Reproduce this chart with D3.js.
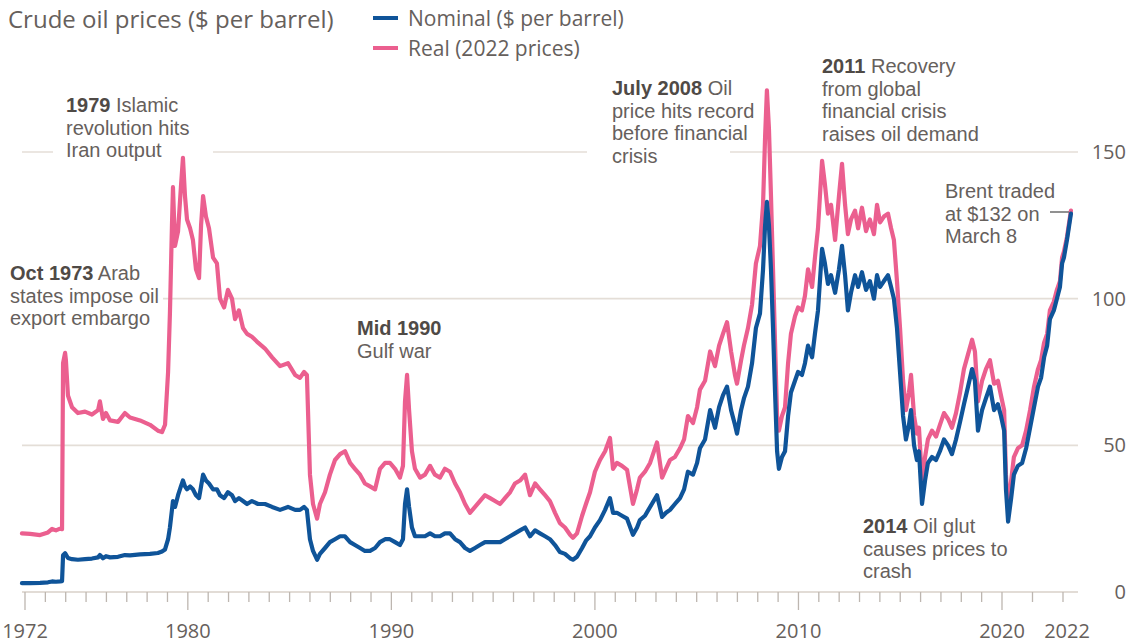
<!DOCTYPE html>
<html><head><meta charset="utf-8">
<script src="https://cdn.jsdelivr.net/npm/d3@7"></script>
<style>
html,body{margin:0;padding:0;background:#fff;}
svg{display:block;font-family:"Open Sans",sans-serif;}
</style></head>
<body><svg id="c" width="1134" height="644"></svg>
<script>
// ---- data (decimal years, $ per barrel) ----
const years = [1971.85,1972.25,1972.74,1973.13,1973.33,1973.52,1973.72,1973.82,1973.87,1973.97,1974.01,1974.11,1974.31,1974.60,1974.95,1975.29,1975.59,1975.68,1975.83,1975.98,1976.18,1976.57,1976.91,1977.16,1977.65,1978.14,1978.53,1978.73,1978.88,1979.03,1979.12,1979.22,1979.27,1979.37,1979.52,1979.66,1979.76,1979.86,1979.96,1980.11,1980.25,1980.40,1980.55,1980.65,1980.75,1980.89,1981.04,1981.24,1981.43,1981.58,1981.78,1981.97,1982.17,1982.32,1982.51,1982.71,1982.91,1983.15,1983.45,1983.79,1984.14,1984.53,1984.92,1985.27,1985.51,1985.71,1985.85,1986.00,1986.15,1986.35,1986.49,1986.74,1986.98,1987.23,1987.48,1987.72,1987.97,1988.21,1988.46,1988.70,1988.95,1989.20,1989.44,1989.69,1989.93,1990.18,1990.42,1990.57,1990.67,1990.77,1990.87,1991.01,1991.16,1991.41,1991.65,1991.90,1992.14,1992.39,1992.63,1992.88,1993.13,1993.37,1993.62,1993.86,1994.11,1994.35,1994.60,1994.85,1995.09,1995.34,1995.58,1995.83,1996.07,1996.32,1996.57,1996.81,1997.06,1997.30,1997.55,1997.79,1998.04,1998.28,1998.53,1998.78,1998.92,1999.12,1999.37,1999.56,1999.76,2000.00,2000.25,2000.50,2000.74,2000.89,2001.08,2001.33,2001.58,2001.87,2002.07,2002.21,2002.46,2002.71,2003.05,2003.30,2003.49,2003.69,2003.93,2004.18,2004.38,2004.57,2004.82,2005.02,2005.16,2005.41,2005.66,2005.90,2006.10,2006.29,2006.49,2006.69,2006.88,2006.98,2007.18,2007.32,2007.52,2007.72,2007.91,2008.11,2008.26,2008.36,2008.45,2008.55,2008.65,2008.75,2008.85,2008.95,2009.04,2009.19,2009.34,2009.49,2009.63,2009.83,2009.98,2010.17,2010.32,2010.47,2010.67,2010.81,2010.96,2011.16,2011.30,2011.45,2011.60,2011.80,2011.99,2012.14,2012.29,2012.43,2012.58,2012.78,2012.93,2013.12,2013.32,2013.51,2013.71,2013.86,2014.01,2014.20,2014.40,2014.55,2014.69,2014.84,2014.99,2015.14,2015.28,2015.43,2015.53,2015.68,2015.82,2015.92,2016.07,2016.22,2016.36,2016.56,2016.76,2016.95,2017.15,2017.35,2017.54,2017.74,2017.94,2018.13,2018.33,2018.53,2018.67,2018.82,2019.02,2019.21,2019.41,2019.61,2019.80,2019.95,2020.07,2020.13,2020.20,2020.30,2020.39,2020.52,2020.66,2020.79,2020.92,2021.05,2021.18,2021.28,2021.38,2021.48,2021.57,2021.70,2021.80,2021.90,2021.97,2022.03,2022.13,2022.26];

const nominal = [3.0,3.0,3.1,3.3,3.6,3.5,3.6,3.7,12.5,13.2,12.8,11.6,11.2,11.0,11.2,11.4,11.8,12.6,11.5,12.2,11.8,12.0,12.6,12.5,12.8,13.0,13.3,13.8,14.5,18,22,28,31,29,33,36,38,36,35,36,35,33,32,36,40,38,37,35,35,33,32,34,33,31,32,31,30,31,30,30,29,28,29,28,28,29,28,18,14,11,13,15,17,18,19,19,17,16,15,14,14,15,17,18,18,17,16,18,30,35,29,22,19,19,19,20,19,19,20,20,18,17,15,14,15,16,17,17,17,17,18,19,20,21,22,19,21,20,19,18,16,13.6,13,11.5,11,12,15,17.5,19,22,24.5,28,32,27,27,26,25,19.5,22,24.5,26,29,33,25.6,27,28,30,32,35,41,40,44,49,52,62,56,63,67,70,62,57,54,62,66,70,78,90,95,110,125,133,125,110,90,68,48,42,46,48,60,68,72,75,74,78,84,80,88,96,117,112,105,108,102,110,118,108,96,102,108,104,109,103,106,100,108,104,106,108,104,100,90,75,60,52,57,62,50,45,48,30,38,44,46,45,48,52,50,47,52,58,64,70,76,72,55,62,66,70,62,64,60,55,35,24,32,40,43,44,49,56,63,70,73,80,84,93,96,100,104,112,114,120,129];

const real = [20.0,19.8,19.4,20.3,21.5,21.0,21.6,21.4,78,81.5,79,67,63,61,61.5,60.5,62,65,59,61,58.5,58,61,59.5,58.5,57,55,54.5,57,75,95,125,138,118,123,138,148,135,127,124,120,110,107,125,135,128,124,114,112,100,97,103,100,93,96,90,88,87,85,83,80,77,78,74,73,75,74,40,30,25,30,34,40,45,47,48,44,42,40,37,36,35,42,44,44,42,39,43,65,74,62,48,42,39,40,43,40,39,42,41,37,34,30,27,29,31,33,32,31,30,32,34,37,38,40,33,37,35,33,31,27,23.5,22,19.5,18.5,20,26,30,34,41,45,48,52.5,42,44,43,41.6,30,35,39,41,44,51,39,42,45,46,49,52,60,57.6,63,69,72,82,77,84,88,92,82,74,71,79,84,90,98,112,118,132,155,171,158,135,110,85,60,55,60,63,78,88,94,97,96,101,110,104,114,124,147,139,129,132,120,135,146,132,122,127,130,124,131,123,127,122,132,126,128,129,124,120,106,90,72,62,68,74,60,54,56,38,46,52,55,53,57,61,59,56,61,68,76,81,86,82,65,72,76,79,71,72,67,62,40,28,38,46,49,50,55,62,70,76,79,85,88,96,99,103,106,114,116,121,130];

const yTicks = [0, 50, 100, 150];
const xMinorTicks = d3.range(1972, 2023);
const xLabelYears = [1972, 1980, 1990, 2000, 2010, 2020, 2022];
const seriesNames = ["Nominal ($ per barrel)", "Real (2022 prices)"];
const colors = {nominal: "#0f5499", real: "#eb5f8f"};

const svg = d3.select("#c");
const x = d3.scaleLinear().domain([1972, 2020, 2022]).range([25, 1002, 1063]);
const y = d3.scaleLinear().domain([0, 150]).range([592, 152]);

const gridColor = "#e4ded7";
const textColor = "#66605c";
const boldColor = "#4f4a46";

// gridlines
svg.append("g").selectAll("line").data(yTicks.filter(d => d > 0)).join("line")
  .attr("x1", 22).attr("x2", 1078)
  .attr("y1", d => y(d)).attr("y2", d => y(d))
  .attr("stroke", gridColor).attr("stroke-width", 1.6);

// y labels
svg.append("g").selectAll("text").data(yTicks).join("text")
  .attr("x", 1126).attr("y", d => y(d) + 7)
  .attr("text-anchor", "end").attr("font-size", 20).attr("fill", textColor)
  .text(d => d);

// x axis
svg.append("line").attr("x1", 22).attr("x2", 1078).attr("y1", y(0)).attr("y2", y(0))
  .attr("stroke", "#d8d0c8").attr("stroke-width", 1.6);
svg.append("g").selectAll("line").data(xMinorTicks).join("line")
  .attr("x1", d => x(d)).attr("x2", d => x(d))
  .attr("y1", y(0)).attr("y2", d => (d % 10 === 0 || d === 1972) ? y(0) + 18 : y(0) + 10)
  .attr("stroke", "#bdb6b0").attr("stroke-width", 1.3);
svg.append("g").selectAll("text").data(xLabelYears).join("text")
  .attr("x", d => x(d) + (d === 2022 ? 4 : 0)).attr("y", 638)
  .attr("text-anchor", "middle").attr("font-size", 20).attr("fill", textColor)
  .text(d => d);

// annotation background masks (break gridlines behind text)
const masks = [[53, 90, 160, 75], [587, 140, 143, 25], [0, 290, 163, 18]];
svg.append("g").selectAll("rect").data(masks).join("rect")
  .attr("x", d => d[0]).attr("y", d => d[1]).attr("width", d => d[2]).attr("height", d => d[3])
  .attr("fill", "#fff");

// lines
const pts = years.map((t, i) => ({t, n: nominal[i], r: real[i]}));
const lineR = d3.line().x(d => x(d.t)).y(d => y(d.r));
const lineN = d3.line().x(d => x(d.t)).y(d => y(d.n));
svg.append("path").datum(pts).attr("d", lineR).attr("fill", "none")
  .attr("stroke", colors.real).attr("stroke-width", 4.2).attr("stroke-linejoin", "round").attr("stroke-linecap", "round");
svg.append("path").datum(pts).attr("d", lineN).attr("fill", "none")
  .attr("stroke", colors.nominal).attr("stroke-width", 4.2).attr("stroke-linejoin", "round").attr("stroke-linecap", "round");

// title & legend
svg.append("text").attr("x", 8).attr("y", 28).attr("font-size", 24).attr("fill", textColor)
  .text("Crude oil prices ($ per barrel)");
const leg = svg.append("g");
[["nominal", 18], ["real", 48]].forEach(([k, yy], i) => {
  leg.append("line").attr("x1", 373).attr("x2", 398).attr("y1", yy).attr("y2", yy)
    .attr("stroke", colors[k]).attr("stroke-width", 4);
  leg.append("text").attr("x", 408).attr("y", yy + 8).attr("font-size", 21).attr("fill", textColor)
    .text(seriesNames[i]);
});

// annotations: one text per line (compact-metric font so line boxes don't collide)
const notes = [
  {x: 66, y: 112, b: "1979", lines: ["Islamic", "revolution hits", "Iran output"]},
  {x: 10, y: 280, b: "Oct 1973", lines: ["Arab", "states impose oil", "export embargo"]},
  {x: 357, y: 335, b: "Mid 1990", lines: ["", "Gulf war"]},
  {x: 612, y: 95, b: "July 2008", lines: ["Oil", "price hits record", "before financial", "crisis"]},
  {x: 822, y: 73, b: "2011", lines: ["Recovery", "from global", "financial crisis", "raises oil demand"]},
  {x: 945, y: 198, b: "", lines: ["Brent traded", "at $132 on", "March 8"]},
  {x: 863, y: 533, b: "2014", lines: ["Oil glut", "causes prices to", "crash"]}
];
const ng = svg.append("g").attr("font-size", 20).attr("fill", textColor)
  .attr("font-family", "'Liberation Sans', Arial, sans-serif");
notes.forEach(n => {
  n.lines.forEach((l, i) => {
    const t = ng.append("text").attr("x", n.x).attr("y", n.y + i * 22.6);
    if (i === 0 && n.b) {
      t.append("tspan").attr("font-weight", "bold").attr("fill", boldColor).text(n.b);
      if (l) t.append("tspan").text(" " + l);
    } else t.text(l);
  });
});
// Brent connector
svg.append("line").attr("x1", 1050).attr("x2", x(years[years.length - 1]) - 2)
  .attr("y1", 212).attr("y2", 212).attr("stroke", "#555").attr("stroke-width", 1.3);
</script></body></html>
